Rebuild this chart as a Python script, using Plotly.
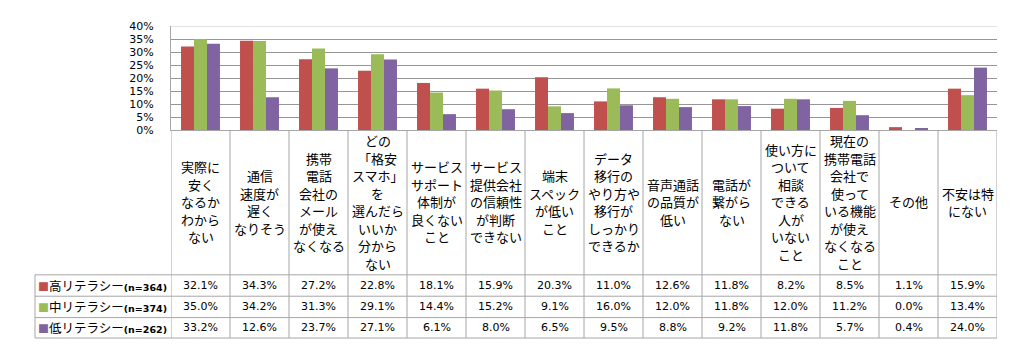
import plotly.graph_objects as go

categories = [
    "実際に<br>安く<br>なるか<br>わから<br>ない",
    "通信<br>速度が<br>遅く<br>なりそう",
    "携帯<br>電話<br>会社の<br>メール<br>が使え<br>なくなる",
    "どの<br>「格安<br>スマホ」<br>を<br>選んだら<br>いいか<br>分から<br>ない",
    "サービス<br>サポート<br>体制が<br>良くない<br>こと",
    "サービス<br>提供会社<br>の信頼性<br>が判断<br>できない",
    "端末<br>スペック<br>が低い<br>こと",
    "データ<br>移行の<br>やり方や<br>移行が<br>しっかり<br>できるか",
    "音声通話<br>の品質が<br>低い",
    "電話が<br>繋がら<br>ない",
    "使い方に<br>ついて<br>相談<br>できる<br>人が<br>いない<br>こと",
    "現在の<br>携帯電話<br>会社で<br>使って<br>いる機能<br>が使え<br>なくなる<br>こと",
    "その他",
    "不安は特<br>にない",
]

series_names = ["高リテラシー", "中リテラシー", "低リテラシー"]
series_n = ["(n=364)", "(n=374)", "(n=262)"]

high = [32.1, 34.3, 27.2, 22.8, 18.1, 15.9, 20.3, 11.0, 12.6, 11.8, 8.2, 8.5, 1.1, 15.9]
mid = [35.0, 34.2, 31.3, 29.1, 14.4, 15.2, 9.1, 16.0, 12.0, 11.8, 12.0, 11.2, 0.0, 13.4]
low = [33.2, 12.6, 23.7, 27.1, 6.1, 8.0, 6.5, 9.5, 8.8, 9.2, 11.8, 5.7, 0.4, 24.0]
series_values = [high, mid, low]

colors = ["#C0504D", "#9BBB59", "#8064A2"]

# page body has an 8px margin; work in screen pixels and shift
OFF = 8
W, H = 1021 - 2 * OFF, 364 - 2 * OFF
PL, PR, PT, PB = 171 - OFF, 997 - OFF, 23 - OFF, 130 - OFF  # plot area (figure px)


def py(p):
    """screen y pixel -> paper y"""
    return (PB - (p - OFF)) / (PB - PT)


def px(p):
    """screen x pixel -> paper x"""
    return ((p - OFF) - PL) / (PR - PL)


n = len(categories)
xs = list(range(n))

fig = go.Figure()
for name, vals, col in zip(series_names, series_values, colors):
    fig.add_trace(go.Bar(x=xs, y=vals, name=name, marker=dict(color=col, line=dict(width=0))))

line_col = "#A6A6A6"
shapes = []
for yy in [279, 301, 323, 344]:
    shapes.append(dict(type="line", xref="paper", yref="paper",
                       x0=px(35), x1=1, y0=py(yy), y1=py(yy),
                       line=dict(color=line_col, width=1)))
for i in range(n + 1):
    shapes.append(dict(type="line", xref="x", yref="paper",
                       x0=i - 0.5, x1=i - 0.5, y0=0, y1=py(344),
                       line=dict(color=line_col, width=1)))
shapes.append(dict(type="line", xref="paper", yref="paper",
                   x0=px(35), x1=px(35), y0=py(279), y1=py(344),
                   line=dict(color=line_col, width=1)))
shapes.append(dict(type="line", xref="paper", yref="y", x0=0, x1=1, y0=40, y1=40,
                   line=dict(color="#C8C8C8", width=1)))

annotations = []
LINE_H = 18
for i, cat in enumerate(categories):
    lines = cat.split("<br>")
    k = len(lines)
    for j, ln in enumerate(lines):
        yc = 204 + (j - (k - 1) / 2) * LINE_H
        annotations.append(dict(x=i, y=py(yc), xref="x", yref="paper", text=ln,
                                showarrow=False, xanchor="center", yanchor="middle",
                                font=dict(family="Noto Sans CJK JP", size=13, color="#000")))

row_centers = [290, 312, 333.5]
for r, vals in enumerate(series_values):
    for i, v in enumerate(vals):
        annotations.append(dict(x=i, y=py(row_centers[r]), xref="x", yref="paper",
                                text=f"{v:.1f}%", showarrow=False,
                                xanchor="center", yanchor="middle",
                                font=dict(family="DejaVu Sans", size=11, color="#000")))
    annotations.append(dict(x=px(36), y=py(row_centers[r]),
                            xref="paper", yref="paper",
                            text=(f"<span style='color:{colors[r]};font-size:11px'>■</span>"
                                  f"{series_names[r]}"
                                  f"<b><span style='font-size:9.5px;font-family:DejaVu Sans'>{series_n[r]}</span></b>"),
                            showarrow=False, xanchor="left", yanchor="middle",
                            font=dict(family="Noto Sans CJK JP", size=12.5, color="#000")))

fig.update_layout(
    width=W, height=H,
    margin=dict(l=PL, r=W - PR, t=PT, b=H - PB, pad=0),
    plot_bgcolor="white", paper_bgcolor="white",
    barmode="group", bargap=0.34, bargroupgap=0,
    showlegend=False,
    shapes=shapes, annotations=annotations,
    xaxis=dict(range=[-0.5, n - 0.5], showticklabels=False, showgrid=False,
               zeroline=False, showline=True, linecolor=line_col, ticks=""),
    yaxis=dict(range=[0, 40], dtick=5, ticksuffix="%", showgrid=True,
               gridcolor="#969696", gridwidth=1, zeroline=False,
               showline=True, linecolor=line_col, ticks="",
               ticklabelstandoff=14,
               tickfont=dict(family="DejaVu Sans", size=11, color="#000")),
)

fig.write_html("out.html")
